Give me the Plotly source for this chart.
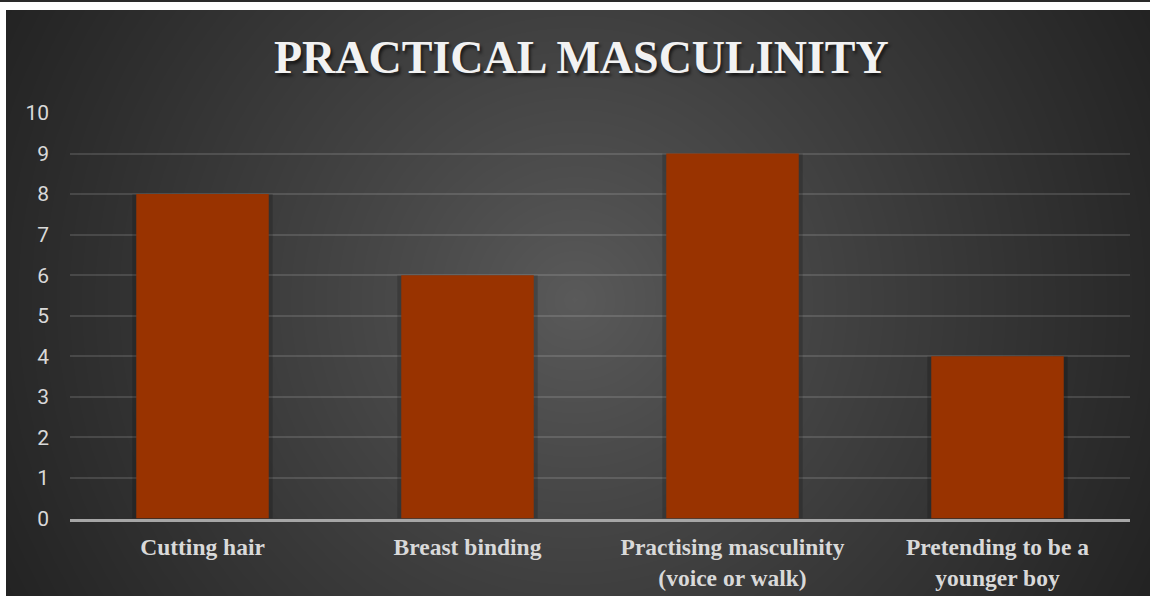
import numpy as np
import plotly.graph_objects as go

# Chart data
categories = ["Cutting hair", "Breast binding", "Practising masculinity", "Pretending to be a younger boy"]
tick_text = ["Cutting hair", "Breast binding", "Practising masculinity<br>(voice or walk)",
             "Pretending to be a<br>younger boy"]
counts = [8, 6, 9, 4]
y_ticks = list(range(0, 11))

W, H = 1150, 596
BAR = "#993300"
LABEL = "#d9d9d9"

# Radial grey backdrop for the chart area (lighter in the middle, dark at the corners)
nx, ny = 140, 80
gx = np.linspace(6, W, nx)
gy = np.linspace(10, H, ny)
X, Y = np.meshgrid(gx, gy)
cx, cy = 575, 300
dist = np.sqrt((X - cx) ** 2 + (Y - cy) ** 2) / 640.0
shade = 90 - 55 * np.clip(dist, 0, 1) ** 0.9

fig = go.Figure()

fig.add_trace(go.Heatmap(
    x=gx, y=gy, z=shade, zmin=0, zmax=255,
    colorscale=[[0, "rgb(0,0,0)"], [1, "rgb(255,255,255)"]],
    zsmooth="best", showscale=False, hoverinfo="skip",
    xaxis="x", yaxis="y",
))

# soft shadow behind each bar
fig.add_trace(go.Bar(
    x=categories, y=counts, width=0.53,
    marker=dict(color="rgba(0,0,0,0.18)", line=dict(width=0)),
    hoverinfo="skip", xaxis="x2", yaxis="y2",
))
fig.add_trace(go.Bar(
    x=categories, y=counts, width=0.5,
    marker=dict(color=BAR, line=dict(width=0)),
    xaxis="x2", yaxis="y2",
))

px0, px1 = 70, 1130
py_top, py_bot = 113, 518.5
cat_font = dict(family="Liberation Serif", size=23.5, color=LABEL, weight="bold")

fig.update_layout(
    width=W, height=H,
    margin=dict(l=0, r=0, t=0, b=0, autoexpand=False),
    paper_bgcolor="white",
    plot_bgcolor="rgba(0,0,0,0)",
    showlegend=False,
    barmode="overlay",
    xaxis=dict(domain=[6 / W, 1], range=[6, W], visible=False, fixedrange=True,
               automargin=False),
    yaxis=dict(domain=[0, (H - 10) / H], range=[H, 10], visible=False, fixedrange=True,
               automargin=False),
    xaxis2=dict(
        domain=[px0 / W, px1 / W], anchor="y2", automargin=False,
        tickvals=categories, ticktext=tick_text,
        tickfont=cat_font,
        showgrid=False, showline=True, linecolor="#a6a6a6", linewidth=2.5,
        ticks="", ticklabelstandoff=6, fixedrange=True,
    ),
    yaxis2=dict(
        domain=[(H - py_bot) / H, (H - py_top) / H], anchor="x2", automargin=False,
        range=[0, 10], tickvals=y_ticks,
        tickfont=dict(family="Roboto", size=21, color=LABEL),
        showgrid=True, gridcolor="rgba(255,255,255,0.13)", gridwidth=1.5,
        zeroline=False, showline=False, ticks="", ticklabelstandoff=20,
        fixedrange=True,
    ),
    shapes=[
        dict(type="rect", xref="paper", yref="paper", x0=0, x1=1,
             y0=(H - 2) / H, y1=1, fillcolor="#2a2a2a", line=dict(width=0), layer="above"),
    ],
    annotations=[dict(
        text="PRACTICAL MASCULINITY", xref="paper", yref="paper",
        x=581 / W, y=(H - 57) / H, xanchor="center", yanchor="middle",
        showarrow=False,
        font=dict(family="Liberation Serif", size=46, color="#f2f2f2", weight="bold",
                  shadow="2px 3px 3px rgba(0,0,0,0.6)"),
    )],
)

fig.write_html("out.html")
